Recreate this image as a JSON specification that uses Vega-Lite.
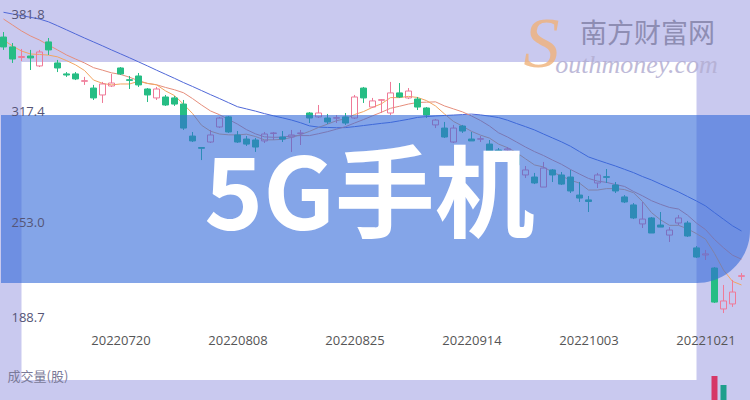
{
  "$schema": "https://vega.github.io/schema/vega-lite/v6.json",
  "width": 750,
  "height": 400,
  "autosize": {"type": "fit", "contains": "padding"},
  "padding": 0,
  "background": "#c9c9ef",
  "config": {"view": {"stroke": null}, "font": "Open Sans"},
  "datasets": {
    "k": [
      {"d":"20220630","o":367.7,"h":370.9,"l":359.5,"c":361.4,"m5":365.8,"m10":379.2,"m20":383.5},
      {"d":"20220704","o":361.4,"h":363.9,"l":351.2,"c":353.7,"m5":362.0,"m10":375.4,"m20":382.4},
      {"d":"20220705","o":354.7,"h":360.1,"l":352.4,"c":355.3,"m5":358.8,"m10":371.6,"m20":381.4},
      {"d":"20220706","o":355.6,"h":359.5,"l":346.7,"c":354.4,"m5":356.9,"m10":368.4,"m20":380.3},
      {"d":"20220707","o":349.3,"h":359.5,"l":348.6,"c":358.2,"m5":356.6,"m10":365.8,"m20":379.2},
      {"d":"20220708","o":364.6,"h":367.1,"l":356.3,"c":359.5,"m5":356.2,"m10":362.6,"m20":377.4},
      {"d":"20220711","o":351.2,"h":353.1,"l":345.4,"c":348.0,"m5":355.1,"m10":359.5,"m20":374.9},
      {"d":"20220712","o":344.2,"h":345.4,"l":342.3,"c":343.5,"m5":352.7,"m10":356.3,"m20":372.3},
      {"d":"20220713","o":344.2,"h":345.4,"l":340.3,"c":341.0,"m5":350.0,"m10":353.7,"m20":369.7},
      {"d":"20220714","o":339.5,"h":342.3,"l":337.2,"c":339.9,"m5":346.4,"m10":351.2,"m20":367.1},
      {"d":"20220715","o":335.2,"h":337.2,"l":327.6,"c":328.9,"m5":340.3,"m10":348.2,"m20":364.6},
      {"d":"20220718","o":330.8,"h":339.1,"l":325.7,"c":337.8,"m5":338.2,"m10":346.6,"m20":362.1},
      {"d":"20220719","o":336.5,"h":344.2,"l":335.9,"c":338.4,"m5":337.2,"m10":344.9,"m20":359.5},
      {"d":"20220720","o":348.0,"h":348.6,"l":343.5,"c":344.2,"m5":337.8,"m10":343.9,"m20":357.0},
      {"d":"20220721","o":340.5,"h":342.9,"l":334.6,"c":340.1,"m5":337.8,"m10":342.1,"m20":354.5},
      {"d":"20220722","o":342.9,"h":344.8,"l":335.9,"c":337.2,"m5":339.5,"m10":339.9,"m20":351.9},
      {"d":"20220725","o":334.6,"h":335.2,"l":326.3,"c":330.8,"m5":338.1,"m10":338.2,"m20":349.3},
      {"d":"20220726","o":328.9,"h":335.9,"l":327.6,"c":334.6,"m5":337.3,"m10":337.3,"m20":346.6},
      {"d":"20220727","o":329.5,"h":330.8,"l":323.8,"c":324.4,"m5":333.4,"m10":335.6,"m20":344.0},
      {"d":"20220728","o":328.9,"h":330.1,"l":323.8,"c":325.0,"m5":330.4,"m10":334.1,"m20":341.4},
      {"d":"20220729","o":325.0,"h":327.6,"l":308.5,"c":309.7,"m5":324.9,"m10":332.2,"m20":338.7},
      {"d":"20220801","o":304.6,"h":307.2,"l":300.8,"c":301.5,"m5":319.0,"m10":328.5,"m20":336.2},
      {"d":"20220802","o":297.3,"h":297.6,"l":289.3,"c":296.8,"m5":311.5,"m10":324.4,"m20":333.6},
      {"d":"20220803","o":300.8,"h":308.5,"l":300.2,"c":305.3,"m5":307.7,"m10":320.6,"m20":331.0},
      {"d":"20220804","o":310.4,"h":316.8,"l":309.7,"c":316.1,"m5":305.9,"m10":318.2,"m20":328.5},
      {"d":"20220805","o":316.8,"h":317.4,"l":306.6,"c":307.2,"m5":305.4,"m10":315.2,"m20":325.9},
      {"d":"20220808","o":305.3,"h":307.8,"l":300.2,"c":300.8,"m5":305.3,"m10":312.2,"m20":323.3},
      {"d":"20220809","o":302.7,"h":304.6,"l":298.3,"c":299.5,"m5":305.8,"m10":308.7,"m20":321.9},
      {"d":"20220810","o":302.1,"h":303.4,"l":294.5,"c":297.6,"m5":304.3,"m10":306.0,"m20":320.5},
      {"d":"20220811","o":301.5,"h":307.2,"l":300.2,"c":305.9,"m5":302.2,"m10":304.1,"m20":318.9},
      {"d":"20220812","o":306.2,"h":307.2,"l":302.1,"c":306.6,"m5":302.2,"m10":303.8,"m20":317.5},
      {"d":"20220815","o":304.0,"h":307.8,"l":300.8,"c":302.7,"m5":302.5,"m10":303.9,"m20":316.2},
      {"d":"20220816","o":304.0,"h":308.5,"l":294.5,"c":305.3,"m5":303.7,"m10":304.7,"m20":314.8},
      {"d":"20220817","o":306.2,"h":308.5,"l":298.9,"c":306.6,"m5":305.5,"m10":304.9,"m20":313.1},
      {"d":"20220818","o":319.3,"h":319.9,"l":312.9,"c":316.1,"m5":307.6,"m10":304.9,"m20":311.1},
      {"d":"20220819","o":316.8,"h":324.4,"l":316.1,"c":319.3,"m5":310.1,"m10":306.1,"m20":310.3},
      {"d":"20220822","o":316.1,"h":318.7,"l":312.3,"c":313.6,"m5":312.2,"m10":307.4,"m20":310.1},
      {"d":"20220823","o":316.0,"h":318.0,"l":312.9,"c":316.3,"m5":314.4,"m10":309.0,"m20":309.9},
      {"d":"20220824","o":316.8,"h":319.3,"l":311.7,"c":312.9,"m5":315.6,"m10":310.6,"m20":310.0},
      {"d":"20220825","o":316.1,"h":330.8,"l":315.5,"c":329.5,"m5":318.3,"m10":312.9,"m20":310.6},
      {"d":"20220826","o":335.2,"h":335.9,"l":325.7,"c":328.9,"m5":320.2,"m10":315.1,"m20":311.3},
      {"d":"20220829","o":323.1,"h":328.9,"l":322.5,"c":327.0,"m5":322.9,"m10":317.5,"m20":312.0},
      {"d":"20220830","o":327.4,"h":328.2,"l":319.3,"c":327.8,"m5":325.2,"m10":319.8,"m20":312.7},
      {"d":"20220831","o":319.3,"h":339.1,"l":318.0,"c":332.1,"m5":329.1,"m10":322.3,"m20":313.3},
      {"d":"20220901","o":332.1,"h":338.4,"l":328.9,"c":329.5,"m5":329.1,"m10":323.6,"m20":314.3},
      {"d":"20220902","o":328.9,"h":335.2,"l":328.2,"c":333.3,"m5":329.9,"m10":325.0,"m20":315.3},
      {"d":"20220905","o":328.2,"h":329.5,"l":321.2,"c":323.1,"m5":329.2,"m10":326.0,"m20":316.5},
      {"d":"20220906","o":322.5,"h":323.1,"l":316.1,"c":318.0,"m5":327.2,"m10":326.2,"m20":317.0},
      {"d":"20220907","o":311.7,"h":315.5,"l":309.7,"c":314.8,"m5":323.8,"m10":326.4,"m20":317.4},
      {"d":"20220908","o":309.7,"h":313.6,"l":303.4,"c":304.0,"m5":318.7,"m10":323.8,"m20":317.7},
      {"d":"20220909","o":300.8,"h":311.7,"l":300.2,"c":309.7,"m5":313.9,"m10":321.9,"m20":318.0},
      {"d":"20220913","o":311.0,"h":311.7,"l":306.6,"c":307.8,"m5":310.9,"m10":320.0,"m20":318.3},
      {"d":"20220914","o":302.7,"h":307.2,"l":301.5,"c":301.5,"m5":307.6,"m10":317.4,"m20":318.6},
      {"d":"20220915","o":302.6,"h":304.6,"l":300.8,"c":302.9,"m5":305.2,"m10":314.5,"m20":318.1},
      {"d":"20220916","o":299.5,"h":302.1,"l":293.8,"c":294.5,"m5":303.3,"m10":311.0,"m20":317.3},
      {"d":"20220919","o":295.7,"h":297.0,"l":289.3,"c":290.6,"m5":299.5,"m10":306.7,"m20":316.4},
      {"d":"20220920","o":295.7,"h":297.6,"l":292.5,"c":296.4,"m5":297.2,"m10":304.0,"m20":314.7},
      {"d":"20220921","o":292.5,"h":293.8,"l":284.2,"c":286.2,"m5":294.1,"m10":300.8,"m20":312.6},
      {"d":"20220922","o":279.8,"h":285.5,"l":277.9,"c":283.0,"m5":290.1,"m10":297.6,"m20":310.6},
      {"d":"20220923","o":278.5,"h":281.1,"l":274.0,"c":274.7,"m5":286.2,"m10":294.7,"m20":308.5},
      {"d":"20220926","o":272.1,"h":288.1,"l":272.1,"c":284.2,"m5":284.9,"m10":292.2,"m20":305.9},
      {"d":"20220927","o":283.0,"h":283.6,"l":275.3,"c":279.8,"m5":281.6,"m10":289.3,"m20":303.4},
      {"d":"20220928","o":279.8,"h":281.7,"l":273.4,"c":274.0,"m5":279.1,"m10":286.6,"m20":300.9},
      {"d":"20220929","o":278.5,"h":283.0,"l":268.3,"c":269.6,"m5":276.5,"m10":283.3,"m20":298.1},
      {"d":"20220930","o":267.0,"h":275.3,"l":262.6,"c":265.1,"m5":274.6,"m10":280.4,"m20":294.7},
      {"d":"20221003","o":263.9,"h":266.4,"l":256.2,"c":262.9,"m5":270.2,"m10":277.6,"m20":291.3},
      {"d":"20221005","o":274.7,"h":281.1,"l":271.5,"c":279.8,"m5":270.2,"m10":275.9,"m20":289.3},
      {"d":"20221006","o":278.7,"h":283.6,"l":274.7,"c":278.3,"m5":271.1,"m10":275.1,"m20":287.4},
      {"d":"20221007","o":273.4,"h":275.3,"l":268.3,"c":269.6,"m5":271.1,"m10":273.7,"m20":285.5},
      {"d":"20221010","o":265.8,"h":267.0,"l":261.9,"c":262.6,"m5":270.5,"m10":272.5,"m20":283.4},
      {"d":"20221011","o":260.7,"h":261.9,"l":251.7,"c":252.4,"m5":268.5,"m10":269.3,"m20":281.3},
      {"d":"20221012","o":248.6,"h":262.6,"l":246.0,"c":251.7,"m5":262.9,"m10":266.5,"m20":278.8},
      {"d":"20221013","o":252.4,"h":253.0,"l":242.8,"c":242.8,"m5":255.8,"m10":263.4,"m20":276.6},
      {"d":"20221014","o":247.9,"h":256.2,"l":246.6,"c":246.6,"m5":251.2,"m10":261.1,"m20":274.0},
      {"d":"20221017","o":241.5,"h":246.6,"l":237.1,"c":244.7,"m5":247.7,"m10":259.1,"m20":271.5},
      {"d":"20221018","o":249.2,"h":254.3,"l":247.9,"c":252.4,"m5":247.7,"m10":258.1,"m20":269.0},
      {"d":"20221019","o":249.2,"h":250.5,"l":240.3,"c":240.9,"m5":245.5,"m10":254.2,"m20":266.1},
      {"d":"20221020","o":233.3,"h":234.5,"l":226.9,"c":227.5,"m5":242.4,"m10":249.1,"m20":263.2},
      {"d":"20221021","o":228.8,"h":232.0,"l":225.6,"c":229.5,"m5":238.9,"m10":245.0,"m20":260.1},
      {"d":"20221024","o":220.5,"h":221.1,"l":198.2,"c":198.8,"m5":229.8,"m10":238.7,"m20":255.8,"vol":24000000},
      {"d":"20221025","o":194.4,"h":209.7,"l":191.8,"c":199.5,"m5":219.2,"m10":233.4,"m20":251.6,"vol":15000000},
      {"d":"20221026","o":197.6,"h":212.9,"l":195.7,"c":205.2,"m5":212.0,"m10":228.7,"m20":247.4},
      {"d":"20221027","o":215.2,"h":217.3,"l":212.9,"c":215.6,"m5":209.7,"m10":226.1,"m20":244.1}
    ]
  },
  "data": {"name": "k"},
  "resolve": {"scale": {"y": "independent"}},
  "layer": [
    {
      "layer": [
        {
          "data": {"values": [{}]},
          "mark": {"type": "rect", "color": "#ffffff"},
          "encoding": {
            "x": {"datum": "20220705", "type": "ordinal", "scale": {"type": "point", "range": [2.5, 740.5], "padding": 0}, "title": null},
            "x2": {"datum": "20221020"},
            "y": {"datum": 351.8, "type": "quantitative", "title": null},
            "y2": {"datum": 149.1}
          }
        },
        {
          "transform": [
            {"calculate": "max(datum.o, datum.c)", "as": "top"},
            {"calculate": "min(datum.o, datum.c)", "as": "bot"}
          ],
          "encoding": {
            "x": {
              "field": "d", "type": "ordinal",
              "scale": {"type": "point", "range": [2.5, 740.5], "padding": 0},
              "axis": {
                "values": ["20220720", "20220808", "20220825", "20220914", "20221003", "20221021"],
                "title": null, "domain": false, "ticks": false, "grid": false,
                "labelAngle": 0, "labelAlign": "center", "labelBaseline": "top",
                "labelFont": "Open Sans", "labelFontSize": 13,
                "labelColor": "#555555", "labelPadding": 0, "offset": -66,
                "labelOverlap": false, "zindex": 1
              }
            }
          },
          "layer": [
            {
              "mark": {"type": "line", "color": "#5068d8", "strokeWidth": 1},
              "encoding": {
                "y": {
                  "field": "m20", "type": "quantitative", "title": null,
                  "scale": {"domain": [136.38, 391.32], "nice": false, "zero": false},
                  "axis": {
                    "values": [381.8, 317.4, 253.0, 188.7], "format": ".1f", "title": null,
                    "domain": false, "ticks": false, "grid": false,
                    "labelAlign": "left", "labelPadding": -10,
                    "labelFont": "Open Sans", "labelFontSize": 13, "labelColor": "#555577",
                    "labelOverlap": false, "zindex": 1,
                    "labelOffset": {"condition": [
                      {"test": "datum.value > 300 && datum.value < 330", "value": -4},
                      {"test": "datum.value > 240 && datum.value < 260", "value": 5}
                    ], "value": 0}
                  }
                }
              }
            },
            {
              "mark": {"type": "line", "color": "#e68e7c", "strokeWidth": 1},
              "encoding": {"y": {"field": "m10", "type": "quantitative", "title": null}}
            },
            {
              "mark": {"type": "line", "color": "#f3a561", "strokeWidth": 1},
              "encoding": {"y": {"field": "m5", "type": "quantitative", "title": null}}
            },
            {
              "mark": {"type": "rule", "strokeWidth": 1},
              "encoding": {
                "y": {"field": "h", "type": "quantitative", "title": null},
                "y2": {"field": "top"},
                "color": {"condition": {"test": "datum.c < datum.o", "value": "#26bd84"}, "value": "#ef7a98"}
              }
            },
            {
              "mark": {"type": "rule", "strokeWidth": 1},
              "encoding": {
                "y": {"field": "bot", "type": "quantitative", "title": null},
                "y2": {"field": "l"},
                "color": {"condition": {"test": "datum.c < datum.o", "value": "#26bd84"}, "value": "#ef7a98"}
              }
            },
            {
              "mark": {"type": "bar", "size": 6, "strokeWidth": 1},
              "encoding": {
                "y": {"field": "top", "type": "quantitative", "title": null},
                "y2": {"field": "bot"},
                "fill": {"condition": {"test": "datum.c < datum.o", "value": "#26bd84"}, "value": "transparent"},
                "stroke": {"condition": {"test": "datum.c < datum.o", "value": "#26bd84"}, "value": "#ef7a98"}
              }
            }
          ]
        },
        {
          "data": {"values": [{}]},
          "mark": {"type": "rect", "color": "#3269d9", "opacity": 0.6, "cornerRadiusBottomRight": 53},
          "encoding": {
            "y": {"datum": 318.0, "type": "quantitative", "title": null},
            "y2": {"datum": 211.0}
          }
        },
        {
          "data": {"values": [{}]},
          "mark": {"type": "text", "text": "5G手机", "font": "Noto Sans CJK SC", "fontWeight": "bold", "fontSize": 100, "color": "#ffffff", "align": "center", "baseline": "middle", "dx": -3},
          "encoding": {
            "x": {"datum": "20220829", "type": "ordinal", "title": null},
            "y": {"datum": 263.8, "type": "quantitative", "title": null}
          }
        },
        {
          "data": {"values": [{}]},
          "mark": {"type": "text", "text": "S", "font": "Liberation Serif", "fontStyle": "italic", "fontSize": 72, "color": "#f0b27a", "opacity": 0.8, "align": "center", "baseline": "middle", "dx": -2},
          "encoding": {
            "x": {"datum": "20220926", "type": "ordinal", "title": null},
            "y": {"datum": 362.6, "type": "quantitative", "title": null}
          }
        },
        {
          "data": {"values": [{}]},
          "mark": {"type": "text", "text": "outhmoney.com", "font": "Liberation Serif", "fontStyle": "italic", "fontSize": 26, "color": "#b3aed2", "opacity": 0.85, "align": "center", "baseline": "middle", "dx": 3, "dy": 2},
          "encoding": {
            "x": {"datum": "20221011", "type": "ordinal", "title": null},
            "y": {"datum": 351.2, "type": "quantitative", "title": null}
          }
        },
        {
          "data": {"values": [{}]},
          "mark": {"type": "text", "text": "南方财富网", "font": "Noto Sans CJK SC", "fontSize": 27, "color": "#8e8db3", "align": "center", "baseline": "middle", "dx": 5, "dy": -2},
          "encoding": {
            "x": {"datum": "20221012", "type": "ordinal", "title": null},
            "y": {"datum": 367.7, "type": "quantitative", "title": null}
          }
        },
        {
          "data": {"values": [{}]},
          "mark": {"type": "text", "text": "成交量(股)", "font": "Noto Sans CJK SC", "fontSize": 13, "color": "#7a7a98", "align": "left", "baseline": "middle", "dx": 4},
          "encoding": {
            "x": {"datum": "20220630", "type": "ordinal", "title": null},
            "y": {"datum": 151.0, "type": "quantitative", "title": null}
          }
        }
      ]
    },
    {
      "mark": {"type": "bar", "size": 6},
      "encoding": {
        "x": {"field": "d", "type": "ordinal", "scale": {"type": "point", "range": [2.5, 740.5], "padding": 0}, "title": null},
        "y": {"field": "vol", "type": "quantitative", "scale": {"domain": [0, 400000000]}, "axis": null},
        "color": {"condition": {"test": "datum.d == '20221024'", "value": "#d63767"}, "value": "#1f9f8c"}
      }
    }
  ]
}
